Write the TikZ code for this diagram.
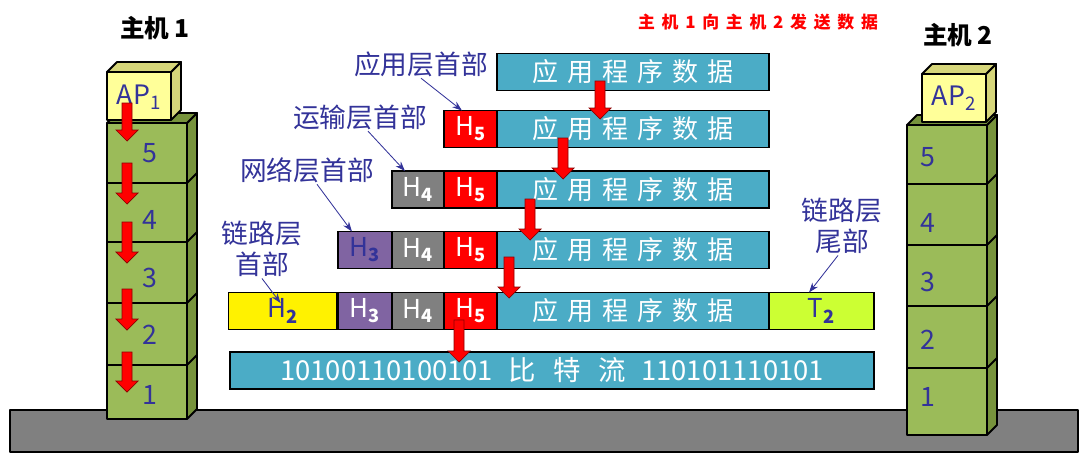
\documentclass[tikz,border=0pt]{standalone}
\usepackage{fontspec}
\setmainfont{Noto Sans CJK SC}
\newfontfamily\spacedfont[LetterSpace=34]{Noto Sans CJK SC}
\newfontfamily\titlefont[LetterSpace=40]{Noto Sans CJK SC}
\usepackage{tikz}
\usetikzlibrary{arrows.meta,positioning,calc}
\definecolor{pktTeal}{HTML}{4BACC6}
\definecolor{pktPurple}{HTML}{8064A2}
\definecolor{pktLime}{HTML}{CCFF33}
\definecolor{lblBlue}{HTML}{333399}
\definecolor{stackGreen}{HTML}{9BBB59}
\definecolor{stackSide}{HTML}{77933C}
\definecolor{apYellow}{HTML}{FFFF99}
\definecolor{apSide}{HTML}{D6D67A}
\tikzset{
  pkt/.style={draw=black,line width=0.9pt,minimum height=0.925cm,inner sep=0pt,outer sep=0pt,
              font=\fontsize{18.5}{20}\selectfont,text=white},
  data/.style={pkt,fill=pktTeal,minimum width=6.8cm,font=\spacedfont\fontsize{18.5}{20}\selectfont},
  hfive/.style={pkt,fill=red,minimum width=1.325cm},
  hfour/.style={pkt,fill=gray,minimum width=1.3cm},
  hthree/.style={pkt,fill=pktPurple,minimum width=1.35cm},
  htwo/.style={pkt,fill=yellow,minimum width=2.7cm,text=lblBlue},
  tailbox/.style={pkt,fill=pktLime,minimum width=2.625cm,text=lblBlue},
  bits/.style={pkt,fill=pktTeal,minimum width=16.1cm,font=\fontsize{19.5}{21}\selectfont},
  lbl/.style={text=lblBlue,font=\fontsize{19}{22}\selectfont,inner sep=1pt,align=center},
  ptr/.style={-{Stealth[length=7pt,width=5pt]},lblBlue,line width=0.6pt},
  num/.style={text=lblBlue,font=\fontsize{19}{20}\selectfont,inner sep=0pt},
  host/.style={font=\bfseries\fontsize{17.5}{20}\selectfont},
  ttl/.style={text=red,font=\titlefont\bfseries\fontsize{12}{13}\selectfont},
  redarr/.style={fill=red,draw=red!55!black,line width=0.5pt},
  solid3d/.style={draw=black,line width=1.3pt,line join=round},
}
% front box with right side and top, depth 10
\newcommand\slab[6]{%
  \filldraw[solid3d,fill=#6] (#3,#4) -- (#3+10,#4-10) -- (#3+10,#2-10) -- (#3,#2) -- cycle;
  \filldraw[solid3d,fill=#6] (#1,#2) -- (#1+10,#2-10) -- (#3+10,#2-10) -- (#3,#2) -- cycle;
  \filldraw[solid3d,fill=#5] (#1,#2) rectangle (#3,#4);}
\newcommand\blockarrow[3]{%
  \filldraw[redarr] (#1-5,#2) -- (#1+5,#2) -- (#1+5,#3-11) -- (#1+11,#3-11) -- (#1,#3)
    -- (#1-11,#3-11) -- (#1-5,#3-11) -- cycle;}

\begin{document}
\begin{tikzpicture}[x=0.025cm,y=-0.025cm]
  \useasboundingbox (0,0) rectangle (1084,461);
  % ground
  \filldraw[solid3d,fill=gray] (10,410) rectangle (1078,452);

  % host 1
  \slab{107}{123}{187}{419}{stackGreen}{stackSide}
  \foreach \y in {183,242,303,365}
    \draw[solid3d] (107,\y) -- (187,\y) -- (197,\y-10);
  \slab{107}{72}{171}{120}{apYellow}{apSide}
  \node[num] (ap1) at (139,97) {AP\textsubscript{1}};
  \foreach \n/\y in {5/153,4/220,3/278,2/335,1/395}
    \node[num] (a\n) at (150,\y) {\n};
  \foreach \t/\b in {103/141,163/204,222/263,289/330,352/392}
    {\blockarrow{127}{\t}{\b}}

  % host 2
  \slab{907}{125}{987}{435}{stackGreen}{stackSide}
  \foreach \y in {184,245,306,368}
    \draw[solid3d] (907,\y) -- (987,\y) -- (997,\y-10);
  \slab{922}{74}{986}{122}{apYellow}{apSide}
  \node[num] (ap2) at (954,98) {AP\textsubscript{2}};
  \foreach \n/\y in {5/157,4/223,3/282,2/340,1/397}
    \node[num] (b\n) at (928,\y) {\n};

  \node[host] (host1) at (155,28) {主机 1};
  \node[host] (host2) at (958,35) {主机 2};
  \node[ttl] (title) at (758,22) {主机1向主机2发送数据};

  % packets
  \node[data] (d1) at (633,72) {应用程序数据};

  \node[data] (d2) at (633,129) {应用程序数据};
  \node[hfive,left=0pt of d2] (h5b) {H\textsubscript{\bfseries 5}};

  \node[data] (d3) at (633,189.5) {应用程序数据};
  \node[hfive,left=0pt of d3] (h5c) {H\textsubscript{\bfseries 5}};
  \node[hfour,left=0pt of h5c] (h4c) {H\textsubscript{\bfseries 4}};

  \node[data] (d4) at (633,250) {应用程序数据};
  \node[hfive,left=0pt of d4] (h5d) {H\textsubscript{\bfseries 5}};
  \node[hfour,left=0pt of h5d] (h4d) {H\textsubscript{\bfseries 4}};
  \node[hthree,left=0pt of h4d,text=lblBlue] (h3d) {H\textsubscript{\bfseries 3}};

  \node[data] (d5) at (633,311) {应用程序数据};
  \node[hfive,left=0pt of d5] (h5e) {H\textsubscript{\bfseries 5}};
  \node[hfour,left=0pt of h5e] (h4e) {H\textsubscript{\bfseries 4}};
  \node[hthree,left=0pt of h4e] (h3e) {H\textsubscript{\bfseries 3}};
  \node[htwo,left=1pt of h3e] (h2e) {H\textsubscript{\bfseries 2}};
  \node[tailbox,right=0pt of d5] (t2e) {T\textsubscript{\bfseries 2}};

  \node[bits] (bits) at (552,370.5)
    {10100110100101\hspace{0.55em}比\hspace{0.65em}特\hspace{0.65em}流\hspace{0.55em}110101110101};

  % header labels
  \node[lbl] (lapp) at (421,64) {应用层首部};
  \node[lbl] (ltrn) at (360,117) {运输层首部};
  \node[lbl] (lnet) at (307,170) {网络层首部};
  \node[lbl] (llnk) at (262,249) {链路层\\首部};
  \node[lbl] (ltail) at (842,226) {链路层\\尾部};
  \draw[ptr] (lapp.south) -- ($(h5b.north west)+(18,0)$);
  \draw[ptr] ($(ltrn.south)+(8,0)$) -- ($(h4c.north west)+(13,0)$);
  \draw[ptr] ($(lnet.south)+(10,0)$) -- ($(h3d.north west)+(14,0)$);
  \draw[ptr] (llnk.south) -- ($(h2e.center)+(-2,-8)$);
  \draw[ptr] ($(ltail.south)+(-4,0)$) -- ($(t2e.north west)+(40,0)$);

  % data moving down
  \blockarrow{600}{81}{119}
  \blockarrow{563}{138}{179}
  \blockarrow{530}{199}{240}
  \blockarrow{509}{257}{298}
  \blockarrow{459}{320}{362}
\end{tikzpicture}
\end{document}
